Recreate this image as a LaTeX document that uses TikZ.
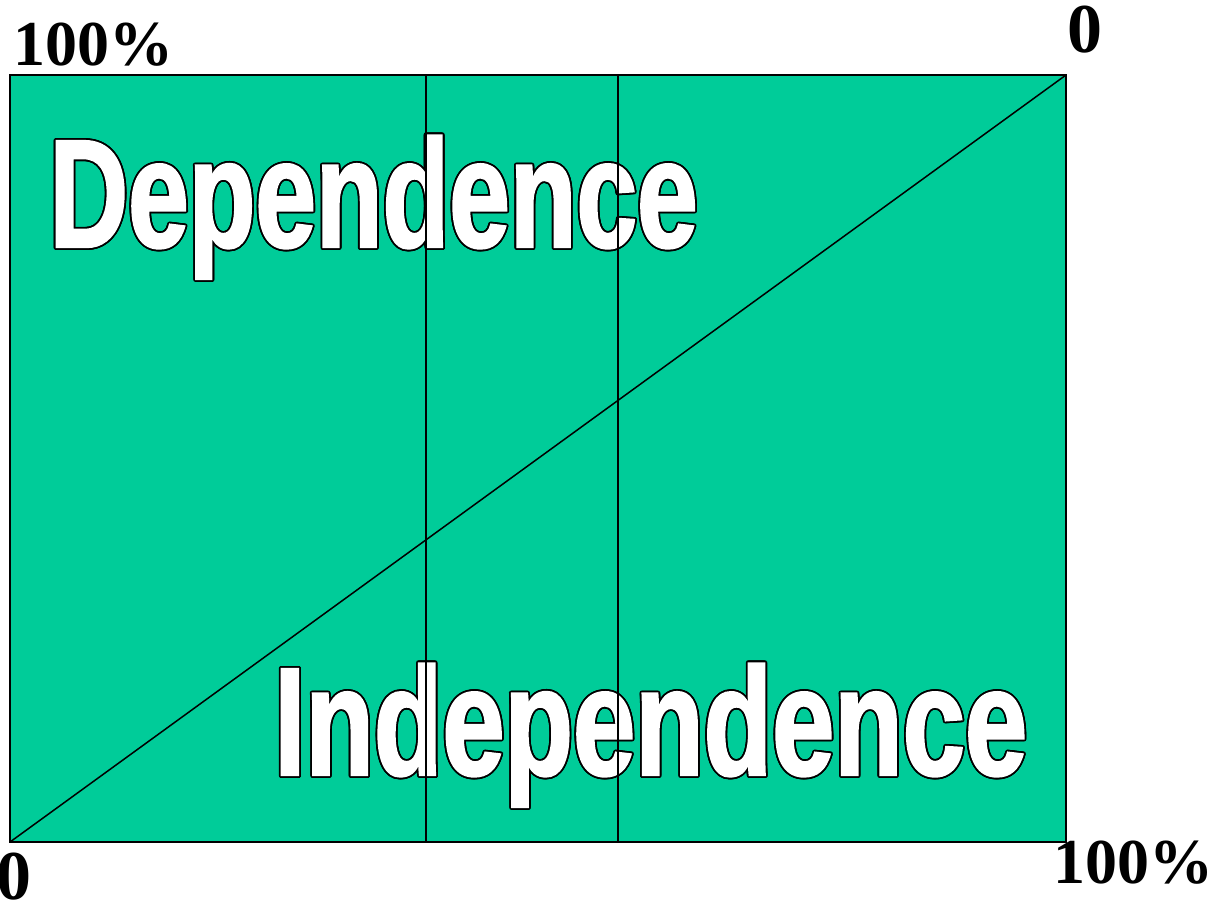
\documentclass[tikz,border=0pt]{standalone}
\usepackage{fontspec}
\setmainfont{Liberation Serif}
\newfontfamily\narrowsans[FakeStretch=0.708,FakeBold=1.5]{Liberation Sans}
\newfontfamily\narrowsanswide[FakeStretch=0.727,FakeBold=1.5]{Liberation Sans}
\usepackage{contour}
\contourlength{0.9pt}
\usetikzlibrary{positioning}
\definecolor{panel}{HTML}{00CC99}

\begin{document}
\begin{tikzpicture}[
  x=0.5pt, y=-0.5pt,
  word/.style={inner sep=0pt, anchor=base west,
               font=\narrowsans\bfseries\fontsize{77}{80}\selectfont},
  pct/.style={inner sep=0pt, anchor=base west, font=\bfseries\fontsize{32}{34}\selectfont},
  zero/.style={inner sep=0pt, anchor=base, font=\bfseries\fontsize{35}{37}\selectfont},
  thin/.style={line width=0.75pt},
  frame/.style={line width=1pt}
]
\useasboundingbox (0,0) rectangle (1220,901);
\coordinate (sw) at (10,842);
\coordinate (ne) at (1066,75);
\coordinate (topa) at (426,75);
\coordinate (bota) at (426,842);
\coordinate (topb) at (618,75);
\coordinate (botb) at (618,842);

\fill[panel] (sw) rectangle (ne);
\draw[thin] (sw) -- (ne);

% the two words
\node[word] (dep) at (49,247) {\textcolor{white}{\contour{black}{Dependence}}};
\node[word, font=\narrowsanswide\bfseries\fontsize{77}{80}\selectfont] (indep) at (274,775)
  {\textcolor{white}{\contour{black}{Independence}}};

\draw[thin] (topa) -- (bota);
\draw[thin] (topb) -- (botb);
\draw[frame] (sw) rectangle (ne);

% scale labels
\node[pct] (hitop) at (13,65) {100\%};
\node[zero] (lotop) at (1085,52) {0};
\node[zero] (lobot) at (14,899) {0};
\node[pct] (hibot) at (1053,883) {100\%};
\end{tikzpicture}
\end{document}
